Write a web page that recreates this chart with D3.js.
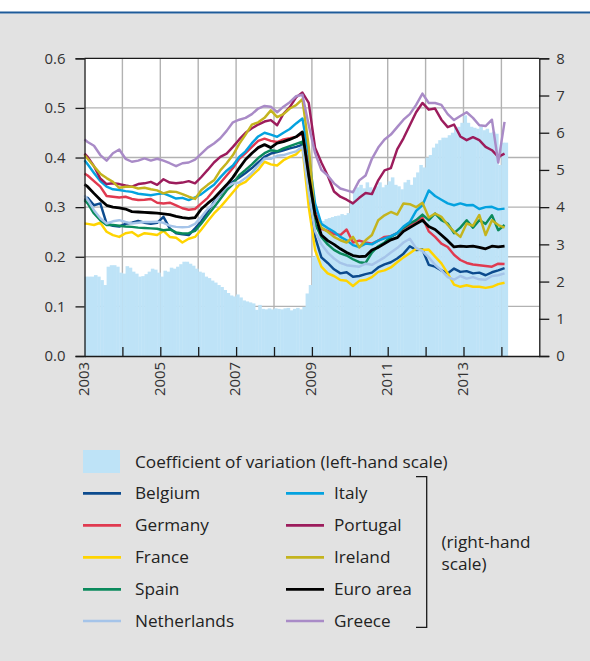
<!DOCTYPE html>
<html><head><meta charset="utf-8">
<script src="https://cdn.jsdelivr.net/npm/d3@7"></script>
<style>
body{margin:0;background:#fff;}
svg{display:block;font-family:"Open Sans","Noto Sans",sans-serif;}
</style></head><body>
<svg id="chart" width="590" height="661"></svg>
<script>
// ---- DATA ----
// Line series sampled at month offsets from Jan 2003: 0,1,3,5,...,133
const lineMonths = [0].concat(d3.range(1, 134, 2));
// Bars: monthly, month offsets 0..133
const covMonths = d3.range(0, 134);
const covValues = [
 0.160,0.160,0.160,0.163,0.160,0.153,0.143,0.180,0.183,0.183,
 0.180,0.168,0.166,0.181,0.178,0.170,0.166,0.160,0.161,0.165,
 0.170,0.176,0.174,0.168,0.160,0.172,0.170,0.178,0.176,0.180,
 0.185,0.190,0.190,0.186,0.182,0.176,0.170,0.168,0.160,0.157,
 0.152,0.148,0.143,0.139,0.133,0.127,0.122,0.120,0.124,0.118,
 0.112,0.110,0.108,0.106,0.093,0.103,0.095,0.094,0.096,0.094,
 0.096,0.095,0.094,0.096,0.097,0.092,0.095,0.097,0.094,0.099,
 0.126,0.143,0.200,0.235,0.265,0.272,0.276,0.278,0.280,0.282,
 0.283,0.286,0.284,0.288,0.310,0.335,0.340,0.345,0.338,0.350,
 0.340,0.332,0.342,0.350,0.340,0.345,0.352,0.360,0.345,0.342,
 0.336,0.350,0.355,0.345,0.360,0.370,0.385,0.380,0.400,0.405,
 0.420,0.428,0.435,0.440,0.440,0.445,0.450,0.460,0.462,0.470,
 0.485,0.470,0.462,0.460,0.458,0.462,0.455,0.458,0.450,0.452,
 0.448,0.385,0.430,0.430];

const belgium = [4.19,4.25,4.05,4.10,3.56,3.50,3.48,3.55,3.58,3.63,
 3.58,3.55,3.58,3.74,3.43,3.30,3.27,3.25,3.43,3.62,
 3.88,4.14,4.35,4.55,4.68,4.80,4.92,5.05,5.20,5.35,
 5.44,5.48,5.53,5.58,5.62,5.68,4.40,3.20,2.65,2.50,
 2.33,2.22,2.25,2.13,2.15,2.20,2.24,2.38,2.46,2.52,
 2.62,2.75,2.95,2.85,2.86,2.45,2.40,2.30,2.22,2.35,
 2.26,2.28,2.22,2.24,2.17,2.25,2.30,2.36];
const germany = [4.90,4.85,4.70,4.55,4.30,4.28,4.26,4.28,4.22,4.19,
 4.20,4.22,4.12,4.10,4.12,4.05,3.97,3.93,3.95,4.10,
 4.25,4.46,4.65,4.85,5.05,5.30,5.45,5.62,5.78,5.84,
 5.78,5.75,5.82,5.85,5.89,5.98,5.10,3.90,3.42,3.36,
 3.28,3.25,3.40,3.05,3.10,3.05,3.02,3.10,3.20,3.22,
 3.30,3.43,3.52,3.62,3.72,3.35,3.20,3.02,2.93,2.72,
 2.58,2.50,2.46,2.44,2.42,2.40,2.48,2.47];
const france = [3.56,3.55,3.52,3.58,3.34,3.25,3.20,3.30,3.33,3.22,
 3.30,3.28,3.25,3.36,3.20,3.18,3.05,3.15,3.20,3.40,
 3.62,3.83,4.00,4.20,4.40,4.60,4.68,4.85,5.00,5.22,
 5.15,5.12,5.26,5.35,5.42,5.60,4.00,2.85,2.40,2.22,
 2.15,2.04,2.02,1.88,2.02,2.04,2.12,2.26,2.30,2.38,
 2.52,2.65,2.76,2.88,2.85,2.86,2.67,2.49,2.22,1.92,
 1.86,1.90,1.86,1.86,1.83,1.86,1.93,1.97];
const spain = [4.19,4.10,3.83,3.65,3.52,3.52,3.50,3.48,3.47,3.45,
 3.44,3.43,3.42,3.38,3.40,3.32,3.29,3.30,3.36,3.56,
 3.78,4.00,4.22,4.45,4.62,4.86,5.00,5.15,5.32,5.45,
 5.53,5.50,5.58,5.64,5.70,5.76,4.60,3.55,3.20,3.00,
 2.85,2.76,2.70,2.60,2.52,2.50,2.78,2.95,3.05,3.20,
 3.30,3.45,3.56,3.65,3.80,3.65,3.83,3.65,3.56,3.30,
 3.45,3.65,3.45,3.65,3.55,3.78,3.38,3.52];
const netherlands = [4.32,4.20,3.92,3.70,3.56,3.62,3.65,3.60,3.56,3.58,
 3.60,3.60,3.61,3.58,3.50,3.47,3.46,3.47,3.55,3.74,
 3.95,4.10,4.37,4.55,4.64,4.66,4.78,4.92,5.12,5.30,
 5.30,5.38,5.40,5.45,5.50,5.62,4.40,3.35,3.00,2.78,
 2.62,2.50,2.44,2.42,2.40,2.48,2.45,2.55,2.65,2.78,
 2.90,3.05,3.15,2.90,2.82,2.65,2.45,2.30,2.12,2.05,
 2.15,2.08,2.12,2.06,2.05,2.15,2.17,2.22];
const italy = [5.26,5.15,4.92,4.70,4.55,4.48,4.46,4.43,4.41,4.36,
 4.34,4.32,4.35,4.37,4.30,4.23,4.25,4.19,4.26,4.35,
 4.48,4.60,4.80,4.98,5.12,5.35,5.50,5.72,5.90,6.00,
 5.95,5.89,6.00,6.10,6.25,6.38,5.40,4.10,3.55,3.44,
 3.34,3.20,3.11,2.98,2.93,3.02,3.00,3.10,3.16,3.22,
 3.30,3.48,3.60,3.90,4.05,4.45,4.30,4.20,4.10,4.05,
 4.10,4.05,4.06,3.95,4.00,4.01,3.94,3.96];
const portugal = [5.44,5.35,5.10,4.77,4.62,4.64,4.62,4.58,4.55,4.62,
 4.64,4.68,4.60,4.75,4.66,4.64,4.66,4.70,4.64,4.81,
 5.00,5.20,5.35,5.44,5.62,5.82,6.00,6.12,6.22,6.30,
 6.34,6.20,6.51,6.69,6.95,7.08,6.80,5.60,5.20,4.85,
 4.42,4.28,4.20,4.10,4.25,4.38,4.35,4.72,4.99,5.05,
 5.55,5.85,6.20,6.55,6.80,6.62,6.65,6.35,6.15,6.22,
 5.90,5.80,5.88,5.80,5.62,5.53,5.35,5.44];
const ireland = [5.40,5.30,5.10,4.90,4.78,4.68,4.52,4.55,4.55,4.50,
 4.52,4.48,4.45,4.37,4.42,4.41,4.35,4.28,4.22,4.46,
 4.60,4.72,4.99,5.18,5.40,5.70,5.95,6.22,6.28,6.40,
 6.60,6.42,6.50,6.65,6.74,6.90,5.62,3.75,3.45,3.34,
 3.20,3.11,3.05,3.20,2.92,3.11,3.25,3.65,3.78,3.87,
 3.80,4.10,4.08,4.00,4.12,3.72,3.83,3.74,3.52,3.34,
 3.20,3.56,3.50,3.79,3.25,3.65,3.52,3.45];
const euroArea = [4.61,4.55,4.37,4.20,4.05,4.00,3.98,3.95,3.88,3.87,
 3.86,3.85,3.84,3.82,3.80,3.75,3.72,3.70,3.72,3.95,
 4.10,4.24,4.42,4.60,4.80,5.05,5.28,5.45,5.60,5.68,
 5.60,5.72,5.76,5.82,5.89,6.02,4.85,3.80,3.25,3.10,
 3.00,2.88,2.78,2.70,2.67,2.68,2.85,2.92,3.02,3.12,
 3.18,3.35,3.45,3.55,3.65,3.48,3.40,3.25,3.10,2.93,
 2.95,2.94,2.95,2.92,2.88,2.95,2.93,2.95];
const greece = [5.82,5.75,5.65,5.40,5.25,5.45,5.55,5.30,5.22,5.25,
 5.31,5.25,5.30,5.25,5.18,5.10,5.18,5.20,5.28,5.44,
 5.60,5.71,5.85,6.05,6.28,6.35,6.40,6.50,6.65,6.72,
 6.70,6.55,6.70,6.82,6.98,7.02,6.20,5.45,5.00,4.85,
 4.64,4.50,4.45,4.40,4.72,4.85,5.30,5.60,5.82,5.95,
 6.15,6.35,6.50,6.75,7.05,6.80,6.80,6.75,6.50,6.34,
 6.45,6.55,6.40,6.20,6.18,6.35,5.20,6.29];

const leftTicks = [0, 0.1, 0.2, 0.3, 0.4, 0.5, 0.6];
const rightTicks = [0, 1, 2, 3, 4, 5, 6, 7, 8];
const yearLabels = ["2003", "2005", "2007", "2009", "2011", "2013"];
const yearTickMonths = d3.range(12, 133, 12);
const covLabel = "Coefficient of variation (left-hand scale)";

const series = [
  {name: "Belgium", values: belgium, color: "#0c4b8e"},
  {name: "Germany", values: germany, color: "#e03a50"},
  {name: "France", values: france, color: "#ffd400"},
  {name: "Spain", values: spain, color: "#0b8a5c"},
  {name: "Netherlands", values: netherlands, color: "#a5c4e9"},
  {name: "Italy", values: italy, color: "#04a2df"},
  {name: "Portugal", values: portugal, color: "#9c1c5c"},
  {name: "Ireland", values: ireland, color: "#c4b41e"},
  {name: "Euro area", values: euroArea, color: "#000000"},
  {name: "Greece", values: greece, color: "#a98bc7"}
];
const drawOrder = ["Belgium","Germany","France","Spain","Netherlands","Italy","Portugal","Ireland","Greece","Euro area"];

// ---- LAYOUT ----
const svg = d3.select("#chart");
const L = 84.5, R = 539.3, T = 58.3, B = 356;
const x = d3.scaleLinear().domain([0, 144]).range([L, R]);
const yL = d3.scaleLinear().domain([0, 0.6]).range([B, T]);
const yR = d3.scaleLinear().domain([0, 8]).range([B, T]);

// font sizes fitted to the reference text widths
function fitSize(str, target) {
  const t = svg.append("text").attr("font-size", 100).text(str);
  const w = t.node().getComputedTextLength();
  t.remove();
  return Math.round(100 * target / w * 10) / 10;
}
const legendSize = Math.min(17.5, fitSize(covLabel, 312));
const axisSize = Math.min(16, fitSize("2003", 34));

// background
svg.append("rect").attr("x",0).attr("y",13.5).attr("width",590).attr("height",661-13.5).attr("fill","#e2e2e2");
svg.append("line").attr("x1",0).attr("x2",590).attr("y1",12.6).attr("y2",12.6).attr("stroke","#1e5b99").attr("stroke-width",2);
svg.append("rect").attr("x",L).attr("y",T).attr("width",R-L).attr("height",B-T).attr("fill","#fff");

// grid
const grid = svg.append("g").attr("stroke","#b2b2b2").attr("stroke-width",1.4);
yearTickMonths.forEach(m => grid.append("line").attr("x1",x(m)).attr("x2",x(m)).attr("y1",T).attr("y2",B));
leftTicks.slice(1,-1).forEach(v => grid.append("line").attr("x1",L).attr("x2",R).attr("y1",yL(v)).attr("y2",yL(v)));

// bars
svg.append("g").selectAll("rect").data(covMonths).join("rect")
  .attr("x", m => x(m)).attr("width", m => x(m+1)-x(m)+0.4)
  .attr("y", (m,i) => yL(covValues[i])).attr("height", (m,i) => B - yL(covValues[i]))
  .attr("fill","#bee3f7");

// lines
const line = d3.line().x((d,i) => x(lineMonths[i])).y(d => yR(d));
const byName = Object.fromEntries(series.map(s => [s.name, s]));
drawOrder.forEach(n => {
  const s = byName[n];
  svg.append("path").attr("d", line(s.values)).attr("fill","none")
    .attr("stroke", s.color).attr("stroke-width", n === "Euro area" ? 2.8 : 2.45)
    .attr("stroke-linejoin","round");
});

// frame top
svg.append("line").attr("x1",L).attr("x2",R).attr("y1",T).attr("y2",T).attr("stroke","#1a1a1a").attr("stroke-width",1.3);

// axes
const gL = svg.append("g").attr("transform",`translate(${L},0)`)
  .call(d3.axisLeft(yL).tickValues(leftTicks).tickFormat(d3.format(".1f")).tickSize(9).tickPadding(10));
const gR = svg.append("g").attr("transform",`translate(${R},0)`)
  .call(d3.axisRight(yR).tickValues(rightTicks).tickFormat(d3.format("d")).tickSize(10).tickPadding(7));
const gB = svg.append("g").attr("transform",`translate(0,${B})`)
  .call(d3.axisBottom(x).tickValues(yearTickMonths).tickSizeInner(-9).tickSizeOuter(0).tickFormat(""));
[gL,gR,gB].forEach(g => {
  g.selectAll("path,line").attr("stroke","#1a1a1a").attr("stroke-width",1.3);
  g.selectAll("text").attr("font-size",axisSize).attr("fill","#333").attr("font-family","'Open Sans','Noto Sans',sans-serif");
});

// rotated year labels
yearLabels.forEach((lab, i) => {
  const m = i * 24;
  svg.append("text").attr("transform",`translate(${x(m)-1},${B+6}) rotate(-90)`)
    .attr("text-anchor","end").attr("dy","0.35em")
    .attr("font-size",axisSize).attr("fill","#333").text(lab);
});

// legend
const lg = svg.append("g").attr("font-size",legendSize).attr("fill","#222");
lg.append("rect").attr("x",83).attr("y",450).attr("width",37).attr("height",23).attr("fill","#bee3f7");
lg.append("text").attr("x",135).attr("y",461.5).attr("dy","0.35em").text(covLabel);
const rowsY = [493.3, 525.3, 557.3, 589.3, 621];
series.forEach((s, i) => {
  const col = Math.floor(i / 5), row = i % 5;
  const sx = col === 0 ? 83 : 286;
  const tx = col === 0 ? 135 : 334;
  lg.append("line").attr("x1",sx).attr("x2",sx+38).attr("y1",rowsY[row]).attr("y2",rowsY[row])
    .attr("stroke",s.color).attr("stroke-width",2.7);
  lg.append("text").attr("x",tx).attr("y",rowsY[row]).attr("dy","0.35em").text(s.name);
});
lg.append("path").attr("d","M416,476.7H426.7V627.3H416").attr("fill","none").attr("stroke","#1a1a1a").attr("stroke-width",1.3);
lg.append("text").attr("x",441.5).attr("y",541.5).attr("dy","0.35em").text("(right-hand");
lg.append("text").attr("x",441.5).attr("y",564).attr("dy","0.35em").text("scale)");

// sanity check
const bad = series.filter(s => s.values.length !== lineMonths.length).map(s => s.name + ":" + s.values.length);
if (covValues.length !== covMonths.length) bad.push("cov:" + covValues.length);
if (bad.length) svg.append("text").attr("x",10).attr("y",30).attr("fill","red").text("LEN " + bad.join(" "));
</script>
</body></html>
